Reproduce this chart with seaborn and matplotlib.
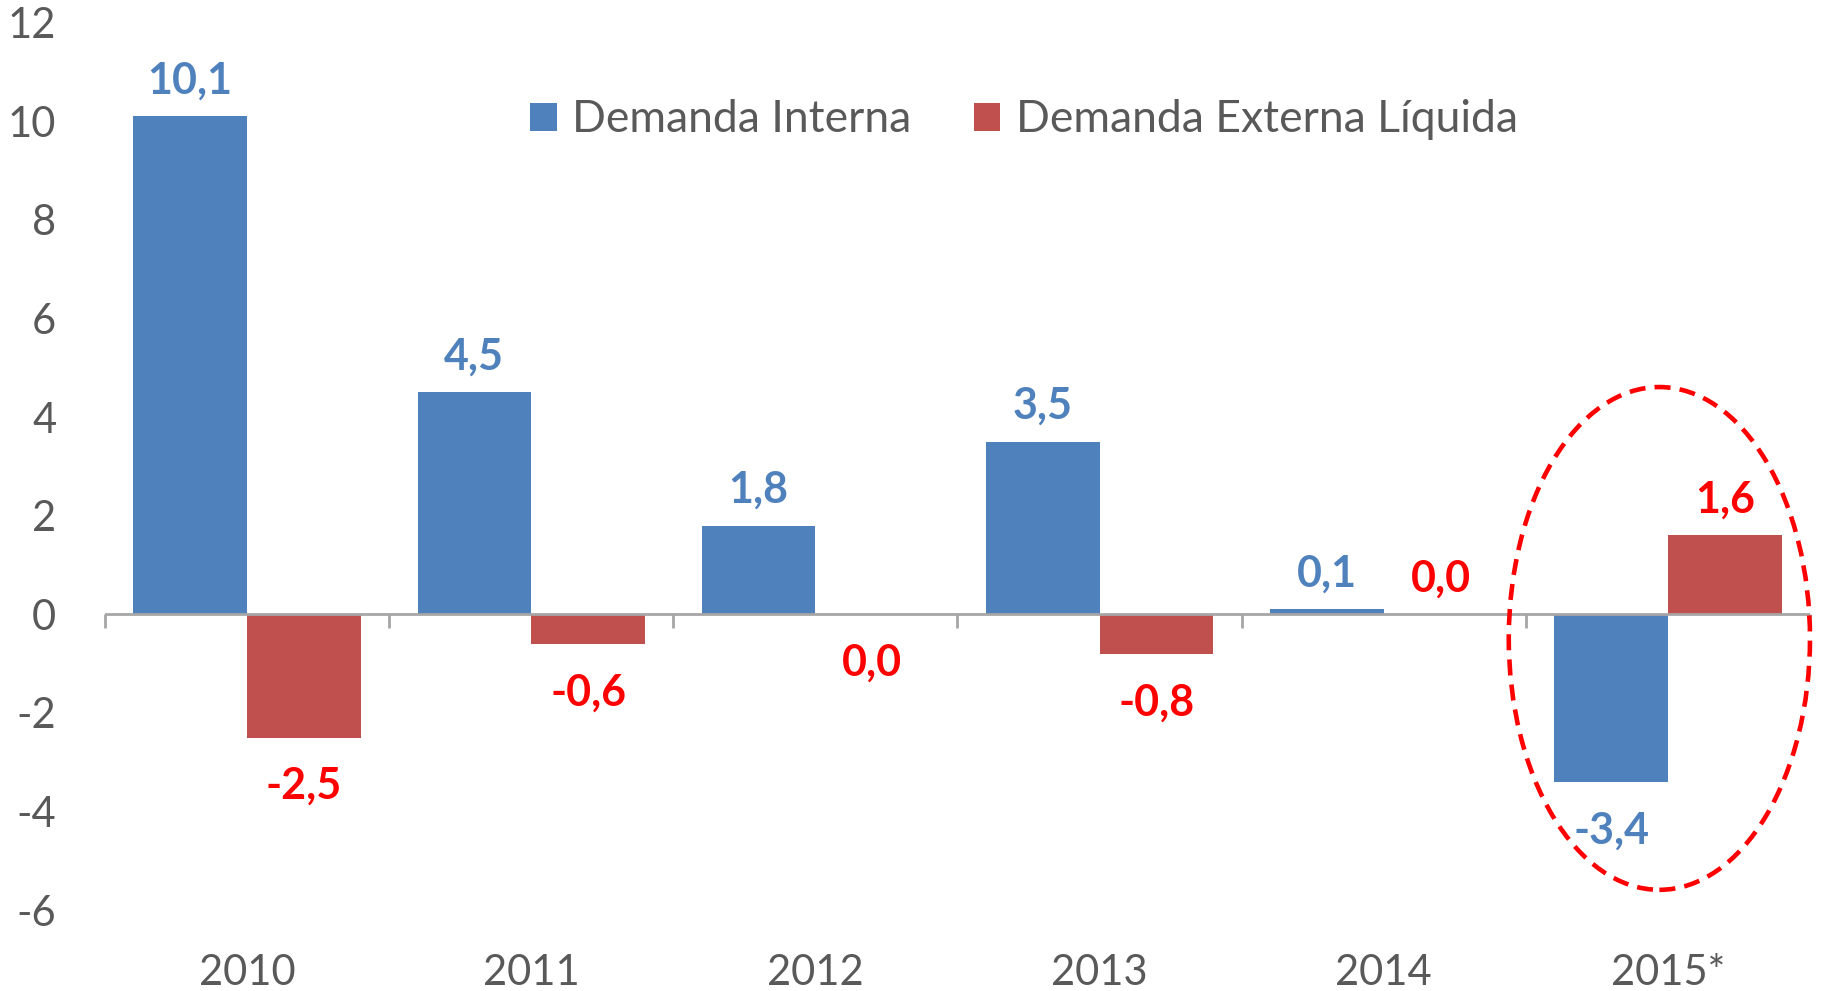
import matplotlib
matplotlib.use("Agg")
import numpy as np
import pandas as pd
import seaborn as sns
import matplotlib.pyplot as plt
from matplotlib.patches import Ellipse

# dados
anos = ["2010", "2011", "2012", "2013", "2014", "2015*"]
demanda_interna = [10.1, 4.5, 1.8, 3.5, 0.1, -3.4]
demanda_externa = [-2.5, -0.6, 0.0, -0.8, 0.0, 1.6]
# lado do rótulo (0,0 de 2012 fica abaixo, 0,0 de 2014 fica acima)
lado_externa = [-1, -1, -1, -1, 1, 1]
series = ["Demanda Interna", "Demanda Externa Líquida"]
y_ticks = [-6, -4, -2, 0, 2, 4, 6, 8, 10, 12]

cores = ["#4F81BD", "#C0504D"]
cores_rotulo = ["#4F81BD", "#FF0000"]
cinza = "#595959"

df = pd.DataFrame({
    "ano": anos * 2,
    "valor": demanda_interna + demanda_externa,
    "serie": [series[0]] * len(anos) + [series[1]] * len(anos),
})

sns.set_style("white")
plt.rcParams["font.family"] = ["Lato", "DejaVu Sans"]

fig = plt.figure(figsize=(18.22, 9.91), dpi=100)
ax = fig.add_axes([0.0576, 0.0817, 0.9358, 0.8953])

sns.barplot(data=df, x="ano", y="valor", hue="serie", hue_order=series,
            palette=cores, saturation=1, width=0.8, errorbar=None,
            linewidth=0, ax=ax)

ax.set_xlim(-0.5, len(anos) - 0.5)
ax.set_ylim(-6, 12)
ax.set_xlabel("")
ax.set_ylabel("")
sns.despine(ax=ax, left=True, bottom=True)

ax.set_yticks(y_ticks)
ax.set_yticklabels([str(t) for t in y_ticks])
ax.tick_params(axis="y", length=0, pad=35, labelsize=30, labelcolor=cinza)
ax.tick_params(axis="x", length=0, pad=32, labelsize=30, labelcolor=cinza)

# linha do zero com marcas entre categorias
ax.axhline(0, color="#A6A6A6", lw=2, zorder=3)
ax.vlines(np.arange(-0.5, len(anos)), 0, -0.28, color="#A6A6A6", lw=2,
          clip_on=False, zorder=3)

# rótulos de dados
lados = [[1 if v >= 0 else -1 for v in demanda_interna], lado_externa]
for i, cont in enumerate(ax.containers):
    for j, bar in enumerate(cont):
        v = bar.get_height()
        x = bar.get_x() + bar.get_width() / 2
        txt = f"{v:.1f}".replace(".", ",").replace("-0,0", "0,0")
        dy = 26 if lados[i][j] > 0 else -35
        ax.annotate(txt, (x, v), xytext=(0, dy),
                    textcoords="offset points", ha="center", va="center",
                    fontsize=31, fontweight="bold", color=cores_rotulo[i])

# legenda
leg = ax.get_legend()
handles = leg.legend_handles
labels = [t.get_text() for t in leg.get_texts()]
ax.legend(handles, labels, loc="center", bbox_to_anchor=(0.562, 0.879),
          bbox_transform=fig.transFigure, ncol=2, frameon=False,
          fontsize=32, labelcolor=cinza, handlelength=0.6,
          handleheight=0.6, handletextpad=0.35, columnspacing=1.4)

# destaque 2015
ax.add_patch(Ellipse((4.97, -0.49), width=1.06, height=10.2, fill=False,
                     edgecolor="#FF0000", lw=3.3, linestyle=(0, (3.5, 2)),
                     clip_on=False, zorder=5))

fig.savefig("out.png", dpi=100)
